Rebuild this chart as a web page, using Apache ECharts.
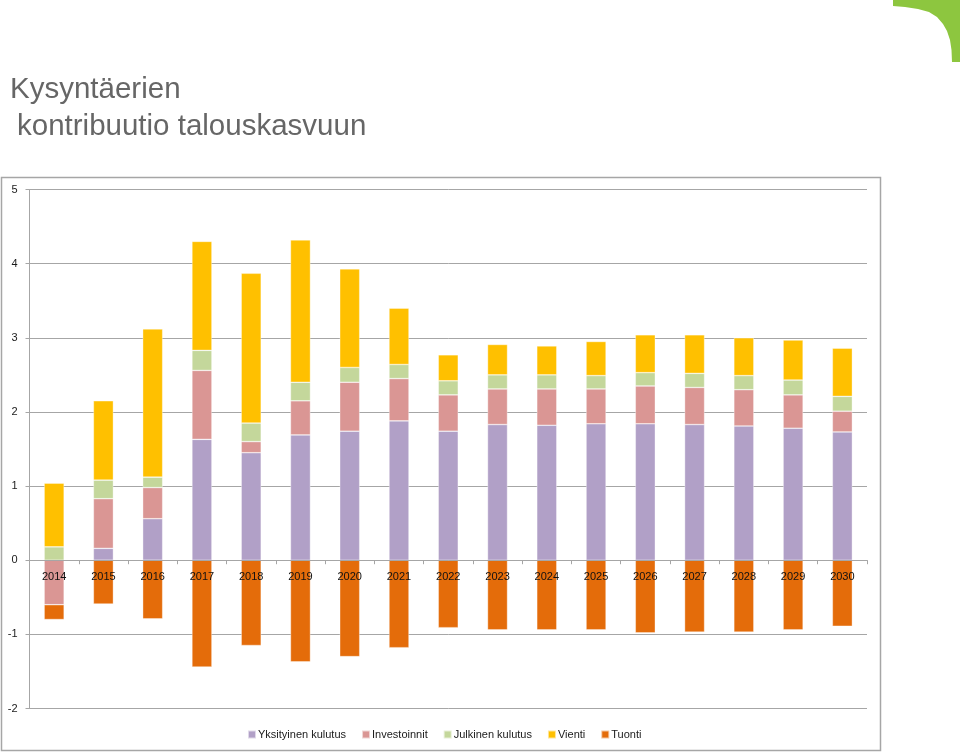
<!DOCTYPE html>
<html>
<head>
<meta charset="utf-8">
<script src="https://cdn.jsdelivr.net/npm/echarts@6/dist/echarts.min.js"></script>
<style>html,body{margin:0;padding:0;background:#fff;}#c{width:960px;height:752px;}</style>
</head>
<body>
<div id="c"></div>
<script>
const years = ['2014','2015','2016','2017','2018','2019','2020','2021','2022','2023','2024','2025','2026','2027','2028','2029','2030'];
const yksityinen = [0.00, 0.16, 0.56, 1.63, 1.45, 1.69, 1.74, 1.88, 1.74, 1.83, 1.82, 1.84, 1.84, 1.83, 1.81, 1.78, 1.73];
const investoinnit = [-0.60, 0.67, 0.42, 0.93, 0.15, 0.46, 0.66, 0.57, 0.49, 0.48, 0.49, 0.47, 0.51, 0.50, 0.49, 0.45, 0.28];
const julkinen = [0.18, 0.25, 0.14, 0.27, 0.25, 0.25, 0.20, 0.19, 0.19, 0.19, 0.19, 0.18, 0.18, 0.19, 0.19, 0.20, 0.20];
const vienti = [0.86, 1.07, 2.00, 1.47, 2.02, 1.92, 1.33, 0.76, 0.35, 0.41, 0.39, 0.46, 0.51, 0.52, 0.51, 0.54, 0.65];
const tuonti = [-0.20, -0.59, -0.79, -1.44, -1.15, -1.37, -1.30, -1.18, -0.91, -0.94, -0.94, -0.94, -0.98, -0.97, -0.97, -0.94, -0.89];
const seriesNames = ['Yksityinen kulutus', 'Investoinnit', 'Julkinen kulutus', 'Vienti', 'Tuonti'];
const colors = ['#B1A0C7', '#DA9694', '#C4D79B', '#FFC000', '#E46C0A'];
const yMin = -2, yMax = 5;

const chart = echarts.init(document.getElementById('c'), null, {renderer: 'canvas'});
const dataSets = [yksityinen, investoinnit, julkinen, vienti, tuonti];
const series = dataSets.map((d, i) => ({
  name: seriesNames[i],
  type: 'bar',
  stack: 'total',
  data: d,
  barWidth: 20,
  itemStyle: {color: colors[i], borderColor: 'rgba(255,255,255,0.6)', borderWidth: 0.6},
  emphasis: {disabled: true}
}));

const gridTop = 189.5, gridBottom = 43.5;
const plotH = 752 - gridTop - gridBottom;
// move the category axis (line, ticks, labels) up to the zero level
const axisOffset = -plotH * (0 - yMin) / (yMax - yMin);

chart.setOption({
  animation: false,
  color: colors,
  title: [
    {text: 'Kysyntäerien', left: 10, top: 75, padding: 0,
     textStyle: {fontFamily: 'Liberation Sans', fontSize: 29.5, fontWeight: 'normal', color: '#666666'}},
    {text: 'kontribuutio talouskasvuun', left: 17, top: 112, padding: 0,
     textStyle: {fontFamily: 'Liberation Sans', fontSize: 29.5, fontWeight: 'normal', color: '#666666'}}
  ],
  graphic: [
    {type: 'rect', shape: {x: 1.5, y: 177.5, width: 879, height: 573}, style: {fill: 'none', stroke: '#A6A6A6', lineWidth: 1.5}, silent: true, z: 0},
    {type: 'polygon', shape: {points: [[893,0],[960,0],[960,62],[952,62],[951.5,50],[950,40],[947,31],[943,24],[937,17],[929,12],[918,9],[905,7],[893,6]]}, style: {fill: '#8DC63F'}, silent: true}
  ],
  legend: {
    bottom: 7, left: 242,
    itemWidth: 8, itemHeight: 8, itemGap: 15,
    icon: 'rect',
    textStyle: {fontFamily: 'Liberation Sans', fontSize: 11, color: '#1a1a1a', padding: [0, 0, 0, -3]},
    data: seriesNames
  },
  grid: {left: 29.5, right: 93, top: gridTop, bottom: gridBottom, containLabel: false},
  xAxis: {
    type: 'category',
    data: years,
    offset: axisOffset,
    axisLine: {onZero: false, lineStyle: {color: '#A6A6A6', width: 1}},
    axisTick: {show: true, length: 4, inside: false, lineStyle: {color: '#A6A6A6'}},
    axisLabel: {fontFamily: 'Liberation Sans', fontSize: 11, color: '#111111', margin: 11},
    splitLine: {show: false},
    z: 5
  },
  yAxis: {
    type: 'value',
    min: yMin, max: yMax, interval: 1,
    axisLine: {show: true, lineStyle: {color: '#A6A6A6'}},
    axisTick: {show: true, length: 4, lineStyle: {color: '#A6A6A6'}},
    axisLabel: {fontFamily: 'Liberation Sans', fontSize: 11, color: '#1a1a1a', margin: 12},
    splitLine: {show: true, lineStyle: {color: '#A6A6A6', width: 1}}
  },
  series: series
});
</script>
</body>
</html>
